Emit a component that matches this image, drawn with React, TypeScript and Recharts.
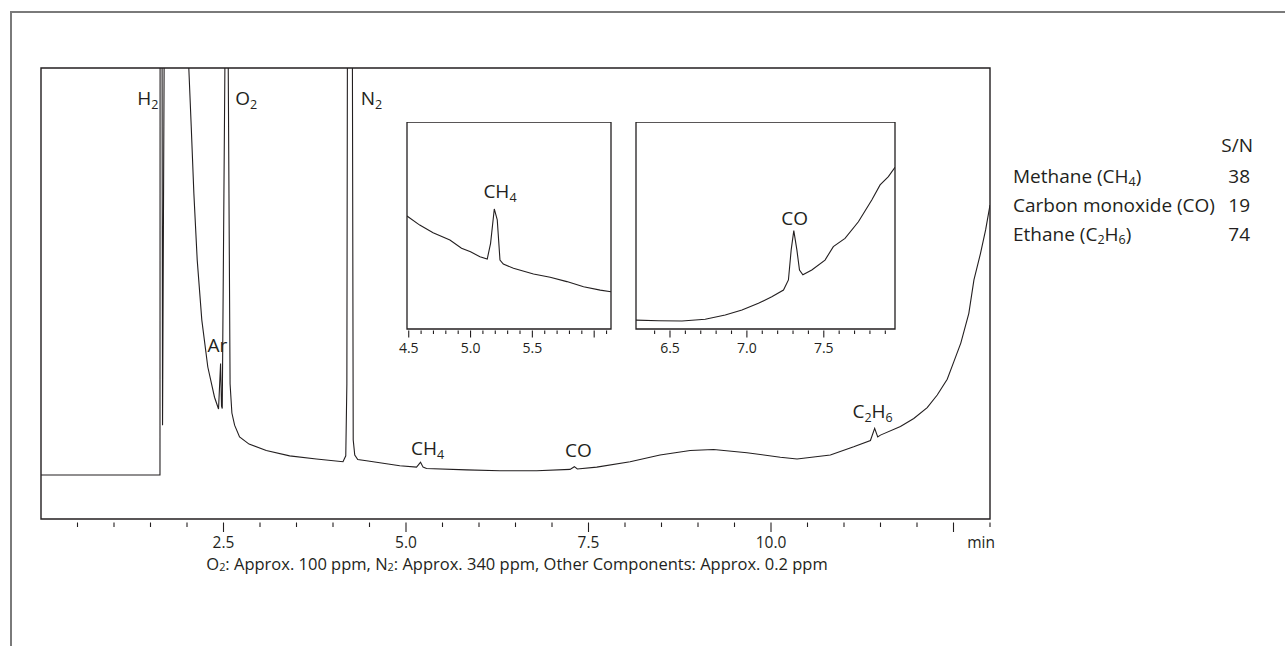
import { LineChart, Line, XAxis, YAxis, ReferenceArea, ReferenceDot } from "recharts"

const INK = "#231f20"
const FONT = "'Open Sans', 'Noto Sans', sans-serif"

// main chromatogram: retention time (min) and detector response (% of plot height, >100 is off scale)
const mainTime = [
  0, 1.63, 1.632, 1.655, 1.665, 1.7, 2.0,
  2.025, 2.058, 2.094, 2.14, 2.203, 2.285, 2.377, 2.432,
  2.46, 2.473, 2.483, 2.519, 2.522, 2.56,
  2.565, 2.59, 2.615, 2.652, 2.72, 2.85, 3.086, 3.406, 3.772, 4.137,
  4.175, 4.19, 4.197, 4.2, 4.262, 4.266, 4.277, 4.298, 4.339, 4.458, 4.915, 5.144,
  5.17, 5.199, 5.234, 5.281, 5.83, 6.287, 6.79, 7.247, 7.306, 7.347, 7.613, 8.07,
  8.48, 8.893, 9.213, 9.671, 10.128, 10.357, 10.813, 11.133, 11.362, 11.42, 11.462,
  11.499, 11.773, 11.956, 12.14, 12.277, 12.414, 12.505, 12.6, 12.71, 12.78, 12.87,
  12.94, 13.0,
]
const mainSignal = [
  9.76, 9.76, 150, 150, 20.8, 150, 150,
  99.9, 87.0, 72.2, 57.4, 44.1, 33.7, 27.0, 24.4,
  34.5, 25.0, 24.5, 100, 150, 150,
  100, 30, 23.5, 20.8, 18.2, 16.6, 15.2, 14.0, 13.3, 12.7,
  14, 30, 100, 150, 150, 100, 17.5, 14.2, 13.2, 12.9, 11.8, 11.5,
  12.0, 12.6, 11.5, 11.2, 10.9, 10.7, 10.7, 11.0, 11.6, 11.1, 11.5, 12.7,
  14.2, 15.2, 15.4, 14.7, 13.7, 13.3, 14.2, 16.0, 17.4, 20.1, 18.2,
  18.6, 20.5, 22.3, 24.7, 27.5, 31.0, 34.9, 39.0, 45.6, 53.0, 58.9,
  64.1, 69.6,
]
const mainTicks = [
  0.5, 1, 1.5, 2, 2.5, 3, 3.5, 4, 4.5, 5, 5.5, 6, 6.5,
  7, 7.5, 8, 8.5, 9, 9.5, 10, 10.5, 11, 11.5, 12, 12.5, 13,
]
const mainTickLabels = [2.5, 5, 7.5, 10]

const peakNames = ["H2", "Ar", "O2", "N2", "CH4", "CO", "C2H6"]
const peakLabelTime = [1.462, 2.416, 2.812, 4.527, 5.296, 7.361, 11.392]
const peakLabelHeight = [91.8, 37.1, 91.8, 91.8, 14.2, 13.7, 22.4]

// enlarged views
const ch4Time = [
  4.486, 4.589, 4.697, 4.833, 4.927, 5.0, 5.076, 5.135, 5.162, 5.192, 5.216,
  5.238, 5.265, 5.347, 5.509, 5.644, 5.779, 5.914, 6.049, 6.136,
]
const ch4Signal = [
  54.6, 50.2, 46.5, 43.0, 39.0, 37.3, 34.9, 33.8, 41.4, 58.0, 52.7,
  33.3, 31.4, 29.3, 26.6, 25.0, 22.9, 20.4, 18.8, 18.0,
]
const ch4Ticks = [4.5, 4.6, 4.7, 4.8, 4.9, 5.0, 5.1, 5.2, 5.3, 5.4, 5.5, 5.6, 5.7, 5.8, 5.9, 6.0, 6.1]
const ch4TickLabels = [4.5, 5.0, 5.5]

const coTime = [
  6.279, 6.426, 6.578, 6.729, 6.859, 6.968, 7.075, 7.162, 7.238, 7.27, 7.288,
  7.305, 7.325, 7.342, 7.364, 7.422, 7.508, 7.562, 7.638, 7.725, 7.812, 7.866,
  7.92, 7.963,
]
const coSignal = [
  4.3, 4.0, 3.9, 4.7, 6.8, 9.2, 12.4, 15.6, 18.8, 23.7, 38.2,
  47.5, 38.2, 28.5, 26.2, 28.5, 33.3, 39.8, 43.8, 51.8, 62.3, 69.6,
  73.6, 78.1,
]
const coTicks = [6.4, 6.5, 6.6, 6.7, 6.8, 6.9, 7.0, 7.1, 7.2, 7.3, 7.4, 7.5, 7.6, 7.7, 7.8, 7.9]
const coTickLabels = [6.5, 7.0, 7.5]

const snNames = ["Methane (CH4)", "Carbon monoxide (CO)", "Ethane (C2H6)"]
const snValues = [38, 19, 74]
const caption = "O2: Approx. 100 ppm, N2: Approx. 340 ppm, Other Components: Approx. 0.2 ppm"

// digits right after a letter are drawn as subscripts
function Formula({ text, x, y, size, anchor = "middle", drop = 0.22 }: any) {
  const parts: string[] = text.split(/(?<=[A-Za-z])(\d)/)
  const shift = size * drop
  let low = false
  const spans: any[] = []
  parts.forEach((p, i) => {
    if (p === "") return
    if (i % 2 === 1) {
      spans.push(<tspan key={i} fontSize={size * 0.66} dy={low ? 0 : shift}>{p}</tspan>)
      low = true
    } else {
      spans.push(<tspan key={i} dy={low ? -shift : 0}>{p}</tspan>)
      low = false
    }
  })
  return (
    <text x={x} y={y} textAnchor={anchor} fontSize={size} fontFamily={FONT} fill={INK}>
      {spans}
    </text>
  )
}

function tickMaker(labels: number[], majorStep: number, o: any) {
  return (props: any) => {
    const { x, y, payload } = props
    const v = Number(payload.value)
    const major = Math.abs(v / majorStep - Math.round(v / majorStep)) < 1e-6
    const hasLabel = labels.some((l) => Math.abs(l - v) < 1e-6)
    return (
      <g>
        <line x1={x} x2={x} y1={y + o.gap} y2={y + (major ? o.major : o.minor)} stroke={INK} strokeWidth={1.1} />
        {hasLabel && (
          <text x={x} y={y + o.labelDy} textAnchor="middle" fontSize={o.size} fontFamily={FONT} fill={INK}>
            {v.toFixed(1)}
          </text>
        )}
        {o.unit && Math.abs(v - o.unitAt) < 1e-6 && (
          <text x={x + 5} y={y + o.labelDy} textAnchor="end" fontSize={o.size} fontFamily={FONT} fill={INK}>
            {o.unit}
          </text>
        )}
      </g>
    )
  }
}

const peakShape = (name: string, size: number) => (p: any) =>
  <Formula text={name} x={p.cx} y={p.cy} size={size} />

// side padding so edge tick labels are not clipped by the svg
const PAD = 20

function Inset({ time, signal, ticks, labels, domain, peak, peakT, peakV, left, width }: any) {
  const data = time.map((t: number, i: number) => ({ t, v: signal[i] }))
  return (
    <div style={{ position: "absolute", left: left - PAD, top: 122 }}>
      <LineChart width={width + PAD * 2} height={247} data={data} margin={{ top: 0, right: PAD, bottom: 0, left: PAD }}>
        <XAxis
          dataKey="t"
          type="number"
          domain={domain}
          allowDataOverflow
          ticks={ticks}
          interval={0}
          height={40}
          axisLine={false}
          tickLine={false}
          tickSize={0}
          tickMargin={0}
          tick={tickMaker(labels, 0.5, { gap: 1.5, minor: 5, major: 8.5, labelDy: 24, size: 14 })}
        />
        <YAxis hide type="number" domain={[0, 100]} allowDataOverflow />
        <ReferenceArea x1={domain[0]} x2={domain[1]} y1={0} y2={100} fill="none" stroke={INK} strokeWidth={1.3} />
        <Line dataKey="v" type="linear" stroke={INK} strokeWidth={1.1} dot={false} isAnimationActive={false} />
        <ReferenceDot x={peakT} y={peakV} r={0} shape={peakShape(peak, 19)} />
      </LineChart>
    </div>
  )
}

export default function App() {
  const data = mainTime.map((t, i) => ({ t, v: mainSignal[i] }))
  return (
    <div style={{ position: "absolute", left: 0, top: 0, width: 1285, height: 646, background: "#fff" }}>
      <div
        style={{
          position: "absolute",
          left: 10,
          top: 11,
          width: 1275,
          height: 635,
          borderTop: "2px solid #7a7a7a",
          borderLeft: "2px solid #7a7a7a",
          boxSizing: "border-box",
        }}
      />
      <div style={{ position: "absolute", left: 0, top: 0 }}>
        <LineChart width={1285} height={646} data={data} margin={{ top: 68, right: 295, bottom: 67, left: 41 }}>
          <XAxis
            dataKey="t"
            type="number"
            domain={[0, 13]}
            allowDataOverflow
            ticks={mainTicks}
            interval={0}
            height={60}
            axisLine={false}
            tickLine={false}
            tickSize={0}
            tickMargin={0}
            tick={tickMaker(mainTickLabels, 2.5, {
              gap: 3.5, minor: 8, major: 13, labelDy: 29, size: 15.5, unit: "min", unitAt: 13,
            })}
          />
          <YAxis hide type="number" domain={[0, 100]} allowDataOverflow />
          <ReferenceArea x1={0} x2={13} y1={0} y2={100} fill="none" stroke={INK} strokeWidth={1.4} />
          <Line dataKey="v" type="linear" stroke={INK} strokeWidth={1.1} dot={false} isAnimationActive={false} />
          {peakNames.map((n, i) => (
            <ReferenceDot key={n} x={peakLabelTime[i]} y={peakLabelHeight[i]} r={0} shape={peakShape(n, 19)} />
          ))}
        </LineChart>
      </div>
      <Inset
        time={ch4Time} signal={ch4Signal} ticks={ch4Ticks} labels={ch4TickLabels}
        domain={[4.486, 6.136]} peak="CH4" peakT={5.238} peakV={63.3} left={407} width={204}
      />
      <Inset
        time={coTime} signal={coSignal} ticks={coTicks} labels={coTickLabels}
        domain={[6.279, 7.963]} peak="CO" peakT={7.31} peakV={50.2} left={636} width={259}
      />
      <svg width={1285} height={646} style={{ position: "absolute", left: 0, top: 0, pointerEvents: "none" }}>
        <Formula text={caption} x={517} y={570} size={16.5} drop={0.06} />
        <text x={1253} y={152} textAnchor="end" fontSize={19} fontFamily={FONT} fill={INK}>S/N</text>
        {snNames.map((n, i) => (
          <g key={n}>
            <Formula text={n} x={1013} y={183 + i * 29} size={19} anchor="start" drop={0.14} />
            <text x={1250} y={183 + i * 29} textAnchor="end" fontSize={19} fontFamily={FONT} fill={INK}>
              {snValues[i]}
            </text>
          </g>
        ))}
      </svg>
    </div>
  )
}
